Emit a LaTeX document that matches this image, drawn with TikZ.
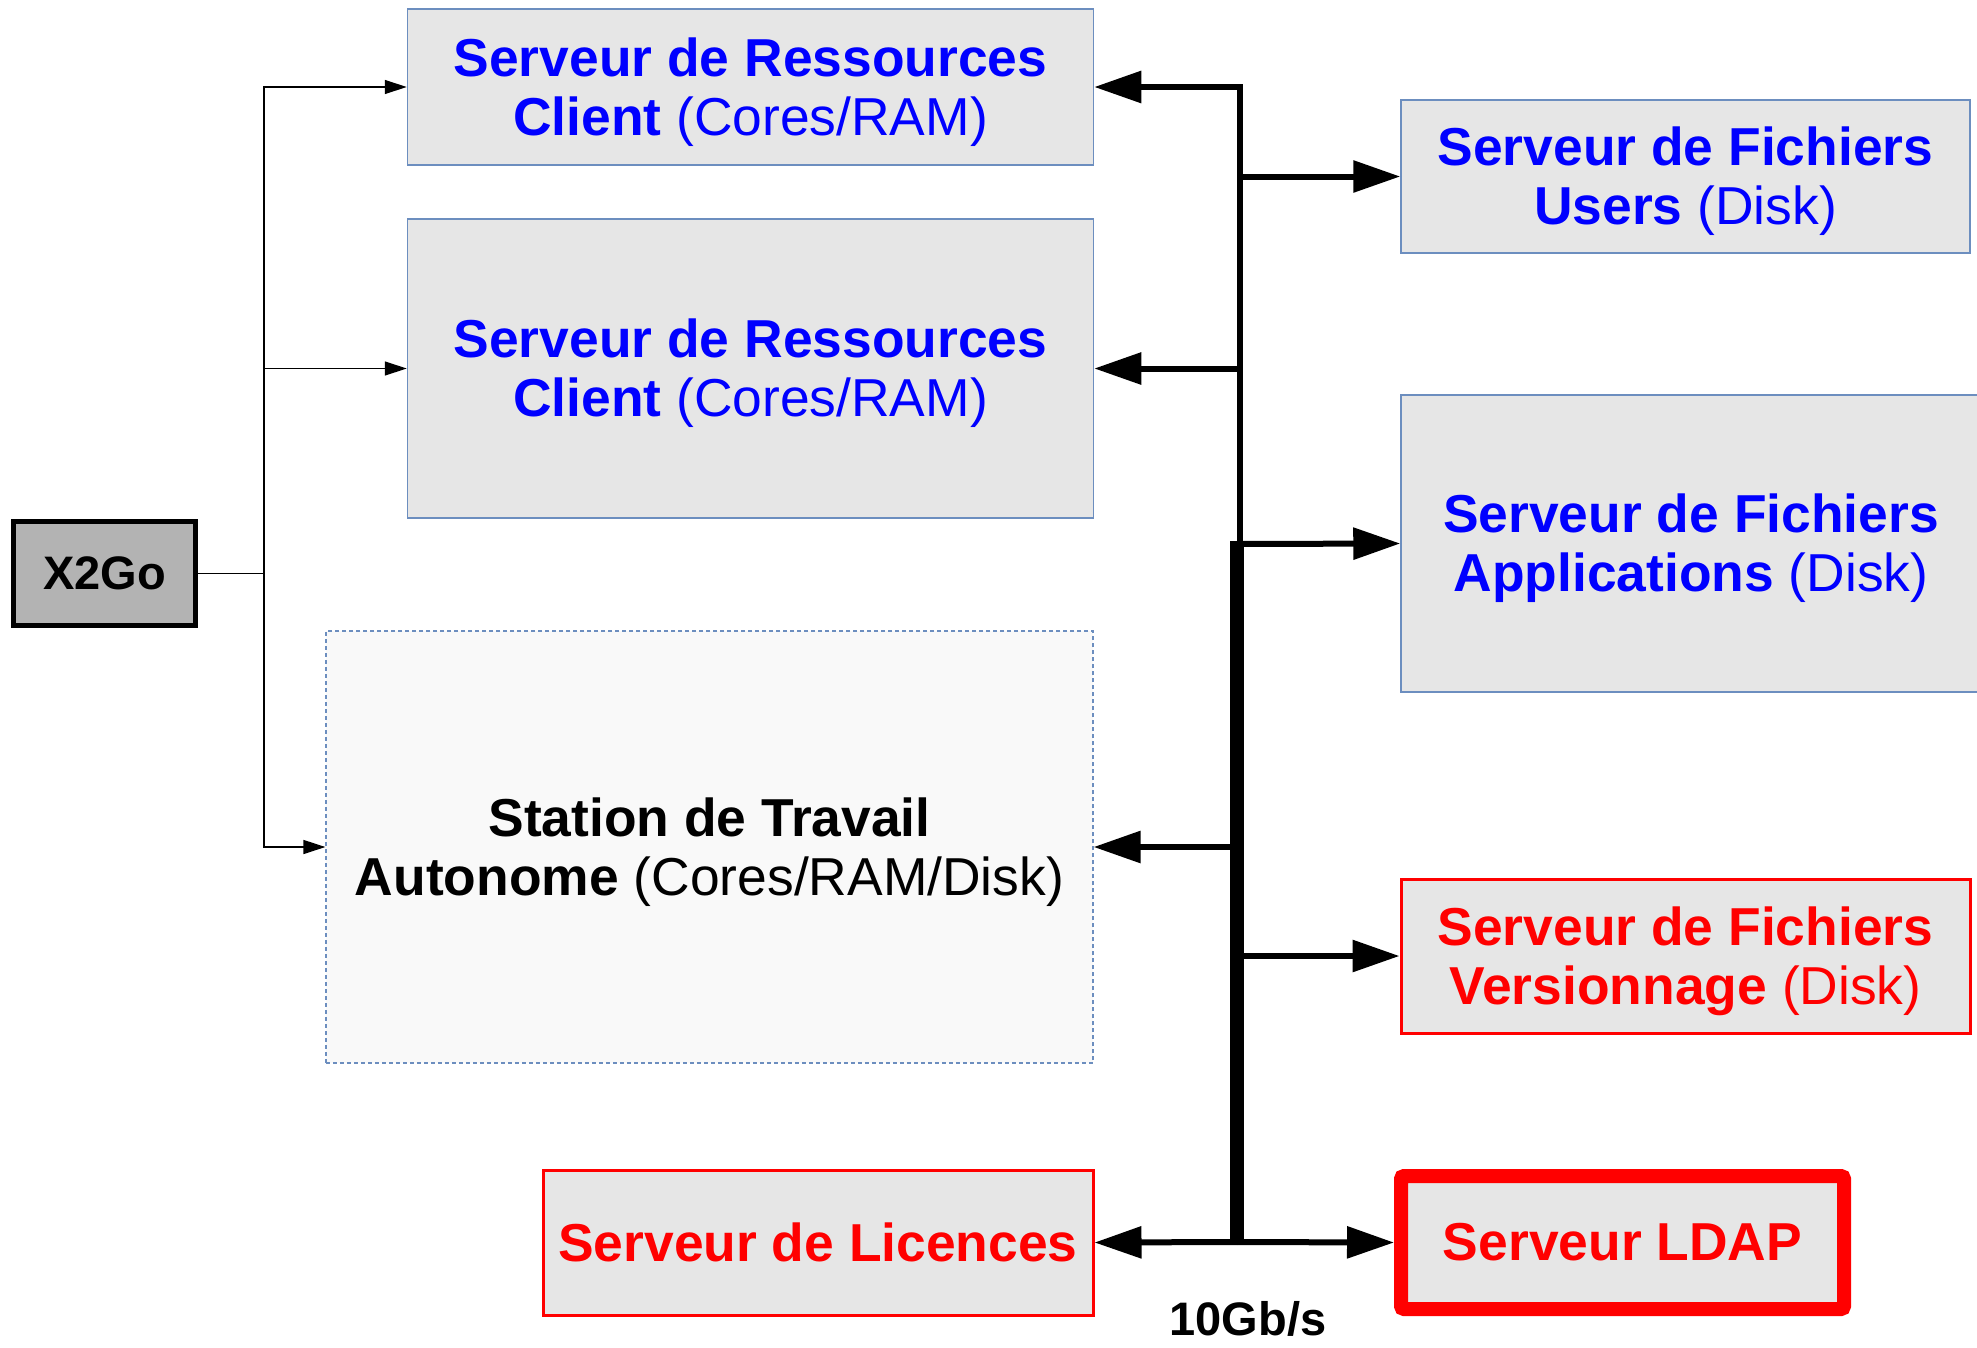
\documentclass[tikz,border=0pt]{standalone}
\usepackage{fontspec}
\setmainfont{Liberation Sans}
\usetikzlibrary{arrows.meta}
\definecolor{boxgray}{HTML}{E6E6E6}
\definecolor{boxline}{HTML}{6C8EBF}
\definecolor{stationfill}{HTML}{F9F9F9}
\definecolor{x2gofill}{HTML}{B3B3B3}
\newcommand{\topstrut}{\rule{0pt}{49pt}}
\tikzset{
  srvbox/.style={rectangle, draw=boxline, line width=1.5pt, fill=boxgray, text=blue, align=center, inner sep=0pt, font=\fontsize{53.4}{59}\selectfont},
  redbox/.style={srvbox, draw=red, line width=3pt, text=red},
  busarrow/.style={line width=6pt, -{Triangle[length=47pt 0 0, width=31pt 0 0]}},
  thinarrow/.style={line width=1.3pt, -{Triangle[length=22pt 0 0, width=14pt 0 0]}}
}
\begin{document}
\begin{tikzpicture}[x=1pt,y=-1pt]
\useasboundingbox (0,0) rectangle (1977,1347);
\node [srvbox, minimum width=686, minimum height=156] (rc1) at (750.5,87) {\topstrut\textbf{Serveur de Ressources}\\\textbf{Client} (Cores/RAM)};
\node [srvbox, minimum width=686, minimum height=299] (rc2) at (750.5,368.5) {\topstrut\textbf{Serveur de Ressources}\\\textbf{Client} (Cores/RAM)};
\node [srvbox, draw=black, line width=5pt, fill=x2gofill, text=black, minimum width=182, minimum height=104, font=\fontsize{47}{52}\selectfont\bfseries] (x2go) at (104.5,573.5) {X2Go};
\node [srvbox, fill=stationfill, line width=1.2pt, dash pattern=on 4pt off 3pt, text=black, minimum width=767, minimum height=432] (station) at (709.5,847) {\topstrut\textbf{Station de Travail}\\\textbf{Autonome} (Cores/RAM/Disk)};
\node [redbox, minimum width=550, minimum height=145] (lic) at (818,1242.5) {\textbf{Serveur de Licences}};
\node [srvbox, minimum width=569, minimum height=153] (fu) at (1685.5,176.5) {\topstrut\textbf{Serveur de Fichiers}\\\textbf{Users} (Disk)};
\node [srvbox, minimum width=580, minimum height=297] (fa) at (1691,543.5) {\topstrut\textbf{Serveur de Fichiers}\\\textbf{Applications} (Disk)};
\node [redbox, minimum width=569, minimum height=154] (fv) at (1685.5,956) {\topstrut\textbf{Serveur de Fichiers}\\\textbf{Versionnage} (Disk)};
\node [redbox, line width=14pt, rounded corners=3pt, minimum width=443, minimum height=133] (ldap) at (1622.5,1242.5) {\textbf{Serveur LDAP}};
\node [anchor=base, font=\fontsize{47}{52}\selectfont\bfseries] (speed) at (1248,1335) {10Gb/s};
\coordinate (split) at (264,573.5);
\coordinate (bustop) at (1240,87);
\coordinate (busmid) at (1240,544);
\coordinate (thicktop) at (1237,541);
\coordinate (busbot) at (1237,1242);
\draw [line width=1.3pt] (x2go.east) -- (split);
\draw [thinarrow] (split) |- (rc1.west);
\draw [thinarrow] (split) |- (rc2.west);
\draw [thinarrow] (split) |- (station.west);
\draw [line width=14pt] (thicktop) -- (busbot);
\draw [busarrow] (busmid) -- (bustop) -- (rc1.east);
\draw [busarrow] (bustop |- fu.west) -- (fu.west);
\draw [busarrow] (bustop |- rc2.east) -- (rc2.east);
\draw [busarrow] (busmid) -- (fa.west);
\draw [busarrow] (busbot |- station.east) -- (station.east);
\draw [busarrow] (busbot |- fv.west) -- (fv.west);
\draw [busarrow] (busbot) -- (lic.east);
\draw [busarrow] (busbot) -- (ldap.west);
\end{tikzpicture}
\end{document}
